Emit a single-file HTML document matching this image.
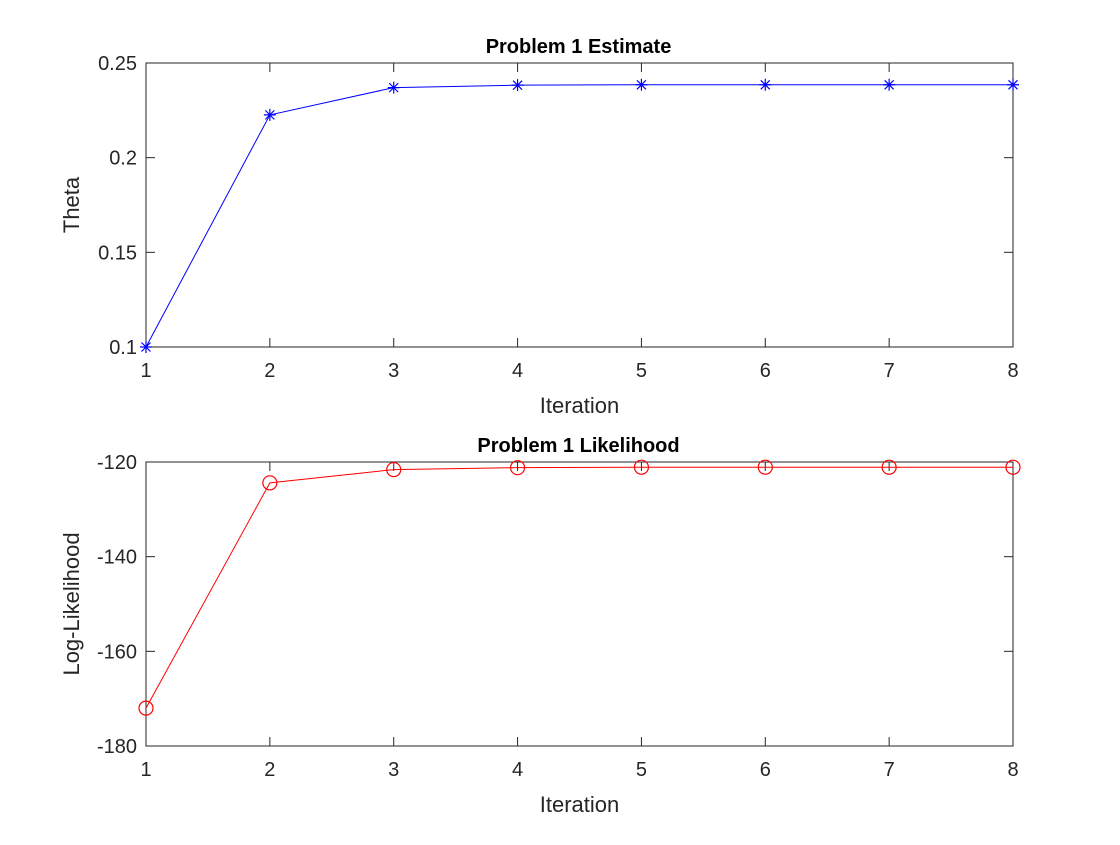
<!DOCTYPE html>
<html><head><meta charset="utf-8"><style>body{margin:0;background:#fff}svg text{font-family:"Liberation Sans",sans-serif;fill:#262626}</style></head>
<body>
<svg id="fig" width="1120" height="840" viewBox="0 0 1120 840"></svg>
<script>
const iterations=[1,2,3,4,5,6,7,8];
const thetaValues=[0.1,0.2226,0.2370,0.2383,0.2385,0.2385,0.2385,0.2385];
const thetaTicks=[0.1,0.15,0.2,0.25];
const llValues=[-172.0,-124.4,-121.6,-121.2,-121.1,-121.1,-121.1,-121.1];
const llTicks=[-180,-160,-140,-120];
const NS="http://www.w3.org/2000/svg";
const svg=document.getElementById('fig');
function mk(tag,attrs,parent,txt){const e=document.createElementNS(NS,tag);for(const k in attrs)e.setAttribute(k,attrs[k]);if(txt!==undefined)e.textContent=txt;(parent||svg).appendChild(e);return e;}
function panel(o){
  const g=mk('g',{});
  
  
  const L=146,R=1013,T=o.top,B=o.top+284;
  const xs=v=>L+(v-1)/7*(R-L);
  const ys=v=>B-(v-o.ymin)/(o.ymax-o.ymin)*(B-T);
  const box=mk('rect',{x:L,y:T,width:R-L,height:B-T,fill:'#fff',stroke:'#262626','stroke-width':1},g);
  
  
  iterations.forEach(v=>{const x=xs(v);
    mk('line',{x1:x,y1:B,x2:x,y2:B-9,stroke:'#262626'},g);
    mk('line',{x1:x,y1:T,x2:x,y2:T+9,stroke:'#262626'},g);
    const t=mk('text',{x:x,y:B+30,'text-anchor':'middle','font-size':20},g,v);
    
    });
  o.ticks.forEach(v=>{const y=ys(v);
    mk('line',{x1:L,y1:y,x2:L+9,y2:y,stroke:'#262626'},g);
    mk('line',{x1:R,y1:y,x2:R-9,y2:y,stroke:'#262626'},g);
    const t=mk('text',{x:L-9,y:y+7,'text-anchor':'end','font-size':20},g,v);
    
    });
  const pts=iterations.map((v,i)=>xs(v)+','+ys(o.vals[i])).join(' ');
  const line=mk('polyline',{points:pts,fill:'none',stroke:o.color,'stroke-width':1},g);
  
  
  iterations.forEach((v,i)=>{const x=xs(v),y=ys(o.vals[i]);let m;
    if(o.marker==='star'){m=mk('path',{d:`M${x-6},${y}H${x+6}M${x},${y-6}V${y+6}M${x-4.5},${y-4.5}L${x+4.5},${y+4.5}M${x-4.5},${y+4.5}L${x+4.5},${y-4.5}`,stroke:o.color,'stroke-width':1.2,fill:'none'},g);}
    else{m=mk('circle',{cx:x,cy:y,r:7,fill:'none',stroke:o.color,'stroke-width':1.2},g);}
    
    });
  const tt=mk('text',{x:(L+R)/2-1,y:T-10,'text-anchor':'middle','font-size':20,'font-weight':'bold',style:'fill:#000'},g,o.title);
  
  
  const xt=mk('text',{x:(L+R)/2,y:B+66,'text-anchor':'middle','font-size':22},g,'Iteration');
  
  
  const yt=mk('text',{x:0,y:0,'text-anchor':'middle','font-size':22,transform:`translate(79,${(T+B)/2}) rotate(-90)`},g,o.ylabel);
  
  
}
panel({name:'estimate-panel',top:63,ymin:0.1,ymax:0.25,ticks:thetaTicks,vals:thetaValues,color:'#0000ff',marker:'star',title:'Problem 1 Estimate',ylabel:'Theta'});
panel({name:'likelihood-panel',top:462,ymin:-180,ymax:-120,ticks:llTicks,vals:llValues,color:'#ff0000',marker:'circle',title:'Problem 1 Likelihood',ylabel:'Log-Likelihood'});
</script>
</body></html>
